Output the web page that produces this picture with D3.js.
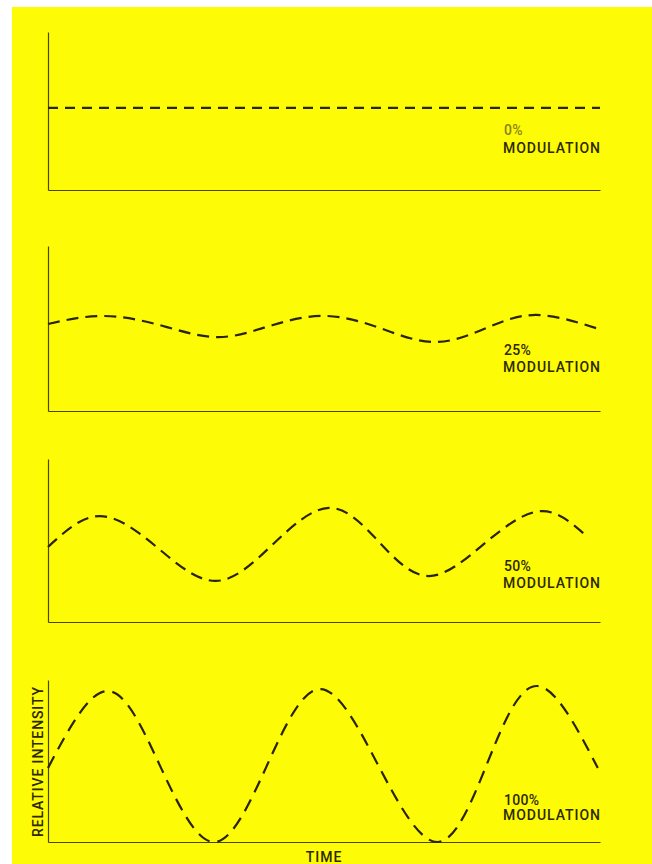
<!DOCTYPE html>
<html>
<head>
<meta charset="utf-8">
<script src="https://cdn.jsdelivr.net/npm/d3@7"></script>
<style>
  html, body { margin: 0; padding: 0; background: #fff; }
  svg { display: block; }
  text { font-family: Roboto, "DejaVu Sans Condensed", sans-serif; font-weight: 500; fill: #2e2800; }
</style>
</head>
<body>
<div id="chart"></div>
<script>
// time in arbitrary units (0..100 across the axis), intensity 0..1 of panel height
var modulations = ["0%", "25%", "50%", "100%"];

var time0 = [0, 100];
var intensity0 = [0.52, 0.52];

var time25 = [0, 9.8, 20.3, 30.8, 40.6, 50.4, 60.1, 69.9, 79.2, 88.4, 99.8];
var intensity25 = [0.527, 0.576, 0.52, 0.448, 0.52, 0.576, 0.503, 0.418, 0.50, 0.582, 0.497];

var time50 = [0, 9.4, 19.9, 30.4, 40.6, 50.9, 60.0, 69.0, 79.2, 89.3, 97.8];
var intensity50 = [0.46, 0.65, 0.454, 0.252, 0.472, 0.70, 0.49, 0.282, 0.485, 0.68, 0.52];

var time100 = [0, 10.7, 20.3, 30.1, 39.7, 49.3, 59.8, 70.5, 79.5, 88.6, 99.6];
var intensity100 = [0.457, 0.932, 0.47, 0.0, 0.475, 0.944, 0.475, 0.0, 0.48, 0.963, 0.457];

var seriesTime = [time0, time25, time50, time100];
var seriesIntensity = [intensity0, intensity25, intensity50, intensity100];

var width = 652,
    height = 864,
    left = 48,
    right = 600;

// panel layout: top of axis, baseline, label baselines
var panels = [
  {top: 32,  base: 190, pctY: 135, modY: 153, dash: "10,7"},
  {top: 246, base: 411, pctY: 355, modY: 372, dash: "12,7"},
  {top: 459, base: 622, pctY: 571, modY: 588, dash: "12,7"},
  {top: 680, base: 842, pctY: 805, modY: 820, dash: "13,8"}
];

var svg = d3.select('#chart')
  .append('svg')
  .attr('width', width)
  .attr('height', height);

svg.append('rect')
  .attr('x', 12).attr('y', 7)
  .attr('width', width - 12).attr('height', height - 7)
  .attr('fill', '#fdfc06');

var x = d3.scaleLinear().domain([0, 100]).range([left, right]);

panels.forEach(function(p, i) {
  var y = d3.scaleLinear().domain([0, 1]).range([p.base, p.top]);
  var g = svg.append('g');

  // axes (no ticks, just the lines)
  g.append('g')
    .attr('transform', 'translate(0,' + p.base + ')')
    .call(d3.axisBottom(x).tickValues([]).tickSizeOuter(0));
  g.append('g')
    .attr('transform', 'translate(' + left + ',0)')
    .call(d3.axisLeft(y).tickValues([]).tickSizeOuter(0));
  g.selectAll('.domain')
    .attr('stroke', '#4d4500')
    .attr('stroke-width', 1.2);

  var pts = seriesTime[i].map(function(t, k) { return [t, seriesIntensity[i][k]]; });
  var line = d3.line()
    .x(function(d) { return x(d[0]); })
    .y(function(d) { return y(d[1]); })
    .curve(d3.curveNatural);

  g.append('path')
    .attr('d', line(pts))
    .attr('fill', 'none')
    .attr('stroke', '#2a2400')
    .attr('stroke-width', 2.2)
    .attr('stroke-dasharray', p.dash);

  g.append('text')
    .attr('x', 504)
    .attr('y', p.pctY)
    .attr('font-size', 14)
    .attr('letter-spacing', 0.3)
    .style('fill', i === 0 ? '#8c8218' : '#2e2800')
    .text(modulations[i]);

  g.append('text')
    .attr('x', 503)
    .attr('y', p.modY)
    .attr('font-size', 14)
    .attr('textLength', 97)
    .attr('lengthAdjust', 'spacing')
    .text('MODULATION');
});

svg.append('text')
  .attr('transform', 'translate(43,762) rotate(-90)')
  .attr('text-anchor', 'middle')
  .attr('font-size', 14)
  .attr('textLength', 150)
  .attr('lengthAdjust', 'spacing')
  .text('RELATIVE INTENSITY');

svg.append('text')
  .attr('x', 324)
  .attr('y', 862)
  .attr('text-anchor', 'middle')
  .attr('font-size', 14)
  .attr('letter-spacing', 1)
  .text('TIME');
</script>
</body>
</html>
